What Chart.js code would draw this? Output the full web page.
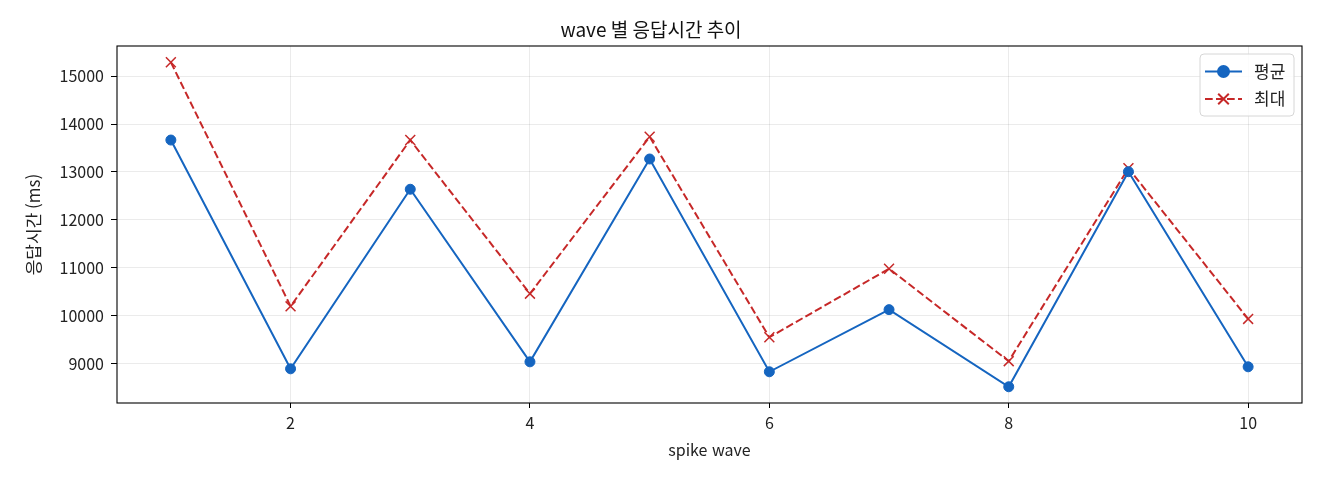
<!DOCTYPE html>
<html lang="ko">
<head>
  <meta charset="UTF-8">
  <title>wave 별 응답시간 추이</title>
  <script src="https://cdn.jsdelivr.net/npm/chart.js"></script>
  <style>
    body { margin: 0; background: #fff; }
    #wrap { width: 1320px; height: 480px; }
  </style>
  <script>
    addEventListener("DOMContentLoaded", init);

    // values
    const waves = [1, 2, 3, 4, 5, 6, 7, 8, 9, 10];
    const avgMs = [13667, 8889, 12639, 9035, 13271, 8827, 10125, 8514, 13006, 8931];
    const maxMs = [15292, 10194, 13667, 10458, 13736, 9548, 10979, 9048, 13077, 9931];

    const xTicks = [2, 4, 6, 8, 10];
    const yTicks = [9000, 10000, 11000, 12000, 13000, 14000, 15000];

    const FONT = "'Noto Sans CJK KR', 'Noto Sans', sans-serif";
    const BLUE = "#1565c0";
    const RED = "#c62828";

    // black box round the plot area, like matplotlib spines
    const frame = {
      id: "frame",
      afterDatasetsDraw(chart) {
        const { ctx, chartArea: a } = chart;
        ctx.save();
        ctx.strokeStyle = "#000";
        ctx.lineWidth = 1.1;
        ctx.strokeRect(a.left, a.top, a.right - a.left, a.bottom - a.top);
        ctx.restore();
      }
    };

    // legend drawn inside the plot, top right, with line + marker samples
    const boxLegend = {
      id: "boxLegend",
      afterDraw(chart) {
        const { ctx, chartArea: a } = chart;
        const w = 94, h = 62;
        const x0 = a.right - 8 - w, y0 = a.top + 8;
        ctx.save();
        ctx.beginPath();
        ctx.roundRect(x0, y0, w, h, 4);
        ctx.fillStyle = "rgba(255,255,255,0.85)";
        ctx.fill();
        ctx.strokeStyle = "#d6d6d6";
        ctx.lineWidth = 1;
        ctx.stroke();

        chart.data.datasets.forEach((ds, i) => {
          const cy = y0 + 17.5 + i * 27.5;
          const lx = x0 + 5, rx = x0 + 42;
          ctx.strokeStyle = ds.borderColor;
          ctx.lineWidth = ds.borderWidth;
          ctx.setLineDash(ds.borderDash || []);
          ctx.beginPath();
          ctx.moveTo(lx, cy);
          ctx.lineTo(rx, cy);
          ctx.stroke();
          ctx.setLineDash([]);
          ctx.fillStyle = ds.pointBackgroundColor;
          ctx.strokeStyle = ds.pointBorderColor;
          Chart.helpers.drawPoint(ctx, {
            pointStyle: ds.pointStyle,
            radius: ds.pointRadius + 0.5,
            rotation: 0,
            borderWidth: ds.pointBorderWidth + 0.3
          }, (lx + rx) / 2, cy);

          ctx.fillStyle = "#222";
          ctx.font = "17px " + FONT;
          ctx.textBaseline = "middle";
          ctx.textAlign = "left";
          ctx.fillText(ds.label, x0 + 54, cy);
        });
        ctx.restore();
      }
    };

    function init() {
      const canvas = document.getElementById("waveChart");

      new Chart(canvas, {
        type: "line",
        data: {
          datasets: [{
            label: "평균",
            data: waves.map((w, i) => ({ x: w, y: avgMs[i] })),
            borderColor: BLUE,
            borderWidth: 2,
            pointStyle: "circle",
            pointRadius: 5,
            pointBackgroundColor: BLUE,
            pointBorderColor: BLUE,
            pointBorderWidth: 1,
            tension: 0
          }, {
            label: "최대",
            data: waves.map((w, i) => ({ x: w, y: maxMs[i] })),
            borderColor: RED,
            borderWidth: 2,
            borderDash: [7.7, 3.3],
            pointStyle: "crossRot",
            pointRadius: 7,
            pointBackgroundColor: RED,
            pointBorderColor: RED,
            pointBorderWidth: 1.5,
            tension: 0
          }]
        },
        options: {
          responsive: true,
          maintainAspectRatio: false,
          animation: false,
          layout: { padding: { left: 0, right: 18, top: 0, bottom: 0 } },
          plugins: {
            legend: { display: false },
            tooltip: { enabled: false },
            title: {
              display: true,
              text: "wave 별 응답시간 추이",
              color: "#111",
              font: { family: FONT, size: 19, weight: "normal" },
              padding: { top: 18, bottom: 5.2 }
            }
          },
          scales: {
            x: {
              type: "linear",
              min: 0.55,
              max: 10.45,
              afterBuildTicks: s => { s.ticks = xTicks.map(v => ({ value: v })); },
              afterFit: s => { s.height = 77; },
              border: { display: false },
              grid: {
                color: "rgba(0,0,0,0.1)",
                lineWidth: 0.8,
                tickColor: "#000",
                tickLength: 5,
                tickWidth: 1
              },
              ticks: {
                color: "#222",
                padding: 5,
                maxRotation: 0,
                font: { family: FONT, size: 16 }
              },
              title: {
                display: true,
                text: "spike wave",
                color: "#222",
                font: { family: FONT, size: 16 },
                padding: { top: 0, bottom: 20 }
              }
            },
            y: {
              min: 8175,
              max: 15631,
              afterBuildTicks: s => { s.ticks = yTicks.map(v => ({ value: v })); },
              afterFit: s => { s.width = 117; },
              border: { display: false },
              grid: {
                color: "rgba(0,0,0,0.1)",
                lineWidth: 0.8,
                tickColor: "#000",
                tickLength: 6,
                tickWidth: 1
              },
              ticks: {
                color: "#222",
                padding: 7,
                font: { family: FONT, size: 16 },
                callback: v => String(v)
              },
              title: {
                display: true,
                text: "응답시간 (ms)",
                color: "#222",
                font: { family: FONT, size: 17 },
                padding: { top: 23, bottom: 0 }
              }
            }
          }
        },
        plugins: [frame, boxLegend]
      });
    }
  </script>
</head>
<body>
  <div id="wrap"><canvas id="waveChart"></canvas></div>
</body>
</html>
